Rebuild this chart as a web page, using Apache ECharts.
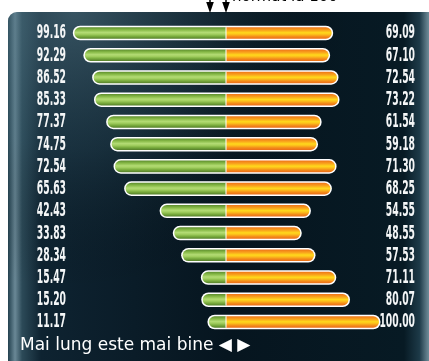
<!DOCTYPE html>
<html>
<head>
<meta charset="utf-8">
<script src="https://cdn.jsdelivr.net/npm/echarts@6/dist/echarts.min.js"></script>
<style>
  html, body { margin: 0; padding: 0; background: #ffffff; }
  #chart { width: 429px; height: 361px; }
</style>
</head>
<body>
<div id="chart"></div>
<script>
// Row values: green side (left) and orange side (right), top to bottom
const leftValues  = [99.16, 92.29, 86.52, 85.33, 77.37, 74.75, 72.54, 65.63, 42.43, 33.83, 28.34, 15.47, 15.20, 11.17];
const rightValues = [69.09, 67.10, 72.54, 73.22, 61.54, 59.18, 71.30, 68.25, 54.55, 48.55, 57.53, 71.11, 80.07, 100.00];
const rowIndex = leftValues.map((_, i) => i);
const footerText = 'Mai lung este mai bine \u25C0 \u25B6';
const headerText = 'normat la 100';
const axisMax = 100;

const chart = echarts.init(document.getElementById('chart'));

const greenGrad = new echarts.graphic.LinearGradient(0, 0, 0, 1, [
  { offset: 0, color: '#5d8c2e' },
  { offset: 0.22, color: '#86b946' },
  { offset: 0.45, color: '#b3db74' },
  { offset: 0.6, color: '#a2cf60' },
  { offset: 0.8, color: '#78aa3c' },
  { offset: 1, color: '#557f2a' }
]);
const orangeGrad = new echarts.graphic.LinearGradient(0, 0, 0, 1, [
  { offset: 0, color: '#ee7419' },
  { offset: 0.25, color: '#f9a21c' },
  { offset: 0.48, color: '#ffd91c' },
  { offset: 0.62, color: '#fcbf1b' },
  { offset: 0.82, color: '#f38a1a' },
  { offset: 1, color: '#ea6d17' }
]);

// narrow bold figures: condensed face squeezed horizontally
const labelFont = {
  fontFamily: '"DejaVu Sans Condensed", "DejaVu Sans", sans-serif',
  fontWeight: 'bold',
  fontSize: 19,
  fill: '#f4f6f7'
};
const labelSqueeze = 0.54;

function renderRow(params, api) {
  const i = api.value(0);
  const l = api.value(1);
  const r = api.value(2);
  const c = api.coord([0, i]);
  const xl = api.coord([-l, i])[0];
  const xr = api.coord([r, i])[0];
  const xMin = api.coord([-axisMax, i])[0];
  const xMax = api.coord([axisMax, i])[0];
  const bh = api.size([0, 1])[1] * 0.52;
  const y = c[1] - bh / 2;
  const rad = bh / 2;
  return {
    type: 'group',
    children: [
      { type: 'rect', shape: { x: xl - 1.5, y: y - 1.5, width: xr - xl + 3, height: bh + 3, r: rad + 1.5 },
        style: { fill: '#ffffff' } },
      { type: 'rect', shape: { x: xl, y: y, width: c[0] - xl, height: bh, r: [rad, 0, 0, rad] },
        style: { fill: greenGrad } },
      { type: 'rect', shape: { x: c[0], y: y, width: xr - c[0], height: bh, r: [0, rad, rad, 0] },
        style: { fill: orangeGrad } },
      { type: 'line', shape: { x1: c[0], y1: y, x2: c[0], y2: y + bh },
        style: { stroke: '#ffffff', lineWidth: 1 } },
      { type: 'text', x: xMin - 7, y: c[1] + 0.5, scaleX: labelSqueeze,
        style: Object.assign({ text: l.toFixed(2), align: 'right', verticalAlign: 'middle' }, labelFont) },
      { type: 'text', x: xMax + 36, y: c[1] + 0.5, scaleX: labelSqueeze,
        style: Object.assign({ text: r.toFixed(2), align: 'right', verticalAlign: 'middle' }, labelFont) }
    ]
  };
}

function arrow(x) {
  return [
    { type: 'line', shape: { x1: x, y1: 0, x2: x, y2: 4 }, style: { stroke: '#000', lineWidth: 1.5 }, z: 10 },
    { type: 'polygon', shape: { points: [[x - 3.8, 2], [x + 3.8, 2], [x, 13]] }, style: { fill: '#000' }, z: 10 }
  ];
}

const option = {
  animation: false,
  backgroundColor: '#ffffff',
  graphic: [
    // dark panel with a soft teal sheen on the edges
    { type: 'rect', z: -10, shape: { x: 8, y: 12, width: 440, height: 370, r: [9, 0, 0, 0] },
      style: { fill: new echarts.graphic.LinearGradient(0, 0, 1, 0, [
        { offset: 0, color: '#22404e' },
        { offset: 0.016, color: '#6a8896' },
        { offset: 0.032, color: '#2c4a58' },
        { offset: 0.075, color: '#0e2331' },
        { offset: 0.5, color: '#06151f' },
        { offset: 0.9, color: '#071a24' },
        { offset: 0.935, color: '#1d3a48' },
        { offset: 0.955, color: '#6a8794' },
        { offset: 1, color: '#6a8794' }
      ]) } },
    { type: 'rect', z: -9, shape: { x: 8, y: 12, width: 440, height: 370, r: [9, 0, 0, 0] },
      style: { fill: new echarts.graphic.RadialGradient(0.15, 0.0, 0.75, [
        { offset: 0, color: 'rgba(90,125,140,0.55)' },
        { offset: 0.5, color: 'rgba(60,95,110,0.25)' },
        { offset: 1, color: 'rgba(0,0,0,0)' }
      ]) } },
    ...arrow(210),
    ...arrow(226),
    { type: 'text', left: 232, top: -10.5, z: 10,
      style: { text: headerText, fontFamily: 'DejaVu Sans', fontSize: 15, fill: '#000' } },
    { type: 'text', left: 20, top: 337, z: 10,
      style: { text: footerText, fontFamily: 'DejaVu Sans', fontSize: 17, fill: '#ffffff' } }
  ],
  grid: { left: 73, right: 50, top: 21.9, bottom: 27.9 },
  xAxis: { type: 'value', min: -axisMax, max: axisMax, show: false },
  yAxis: { type: 'category', data: rowIndex, inverse: true, show: false },
  series: [{
    type: 'custom',
    renderItem: renderRow,
    data: rowIndex.map(i => [i, leftValues[i], rightValues[i]]),
    encode: { x: [1, 2], y: 0 }
  }]
};

chart.setOption(option);
</script>
</body>
</html>
